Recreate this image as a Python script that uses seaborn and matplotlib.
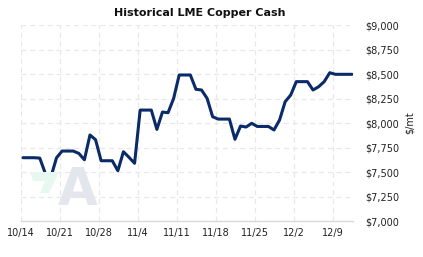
import matplotlib
matplotlib.use("Agg")
import matplotlib.pyplot as plt
from matplotlib.patches import Polygon
import seaborn as sns
import pandas as pd

# ---- data (daily, weekends carry Friday's value) ----
start_date = "2022-10-14"
prices = [7646, 7646, 7646, 7642, 7485, 7450, 7645,
          7714, 7714, 7714, 7690, 7625, 7878, 7830,
          7615, 7615, 7615, 7513, 7707, 7650, 7589,
          8132, 8132, 8132, 7935, 8112, 8105, 8250,
          8490, 8490, 8490, 8344, 8337, 8252, 8064,
          8040, 8040, 8040, 7834, 7969, 7959, 7997,
          7965, 7965, 7965, 7929, 8031, 8217, 8286,
          8422, 8422, 8422, 8337, 8370, 8422, 8513,
          8497, 8497, 8497, 8497]
tick_dates = ["2022-10-14", "2022-10-21", "2022-10-28", "2022-11-04",
              "2022-11-11", "2022-11-18", "2022-11-25", "2022-12-02",
              "2022-12-09"]
tick_labels = ["10/14", "10/21", "10/28", "11/4", "11/11", "11/18",
               "11/25", "12/2", "12/9"]
y_ticks = [7000, 7250, 7500, 7750, 8000, 8250, 8500, 8750, 9000]
y_labels = ["$7,000", "$7,250", "$7,500", "$7,750", "$8,000",
            "$8,250", "$8,500", "$8,750", "$9,000"]

dates = pd.date_range(start_date, periods=len(prices), freq="D") + pd.Timedelta(hours=10)
df = pd.DataFrame({"date": dates, "price": prices})

sns.set_theme(style="white")
plt.rcParams['font.family'] = ['DejaVu Sans']

fig = plt.figure(figsize=(4.23, 2.57), dpi=100)
ax = fig.add_axes([0.049, 0.140, 0.7855, 0.7627])

# watermark
fig.text(78 / 423, 1 - 191 / 257, "A", fontsize=37, fontweight="bold",
         color="#e3e7ed", ha="center", va="center", zorder=0)
wm = Polygon([[30 / 423, 1 - 172 / 257], [59 / 423, 1 - 172 / 257],
              [49 / 423, 1 - 193 / 257], [40 / 423, 1 - 193 / 257],
              [45 / 423, 1 - 181 / 257], [33 / 423, 1 - 181 / 257]],
             closed=True, transform=fig.transFigure, facecolor="#e6f8f0",
             edgecolor="none", zorder=0)
fig.patches.append(wm)
ax.patch.set_alpha(0)

sns.lineplot(data=df, x="date", y="price", ax=ax, color="#0b2a68",
             linewidth=2.2, zorder=3)

ax.set_ylim(7000, 9000)
ax.set_xlim(pd.Timestamp(start_date), dates[-1] + pd.Timedelta(hours=4))
ax.set_yticks(y_ticks)
ax.set_yticklabels(y_labels)
ax.set_xticks([pd.Timestamp(d) for d in tick_dates])
ax.set_xticklabels(tick_labels)
ax.yaxis.tick_right()
ax.yaxis.set_label_position("right")
ax.tick_params(axis="both", length=0, labelsize=7, colors="#222222")
ax.tick_params(axis="y", pad=9)
ax.tick_params(axis="x", pad=5)

ax.grid(True, color="#e8e8e8", linestyle=(0, (4, 3)), linewidth=0.9)
for s in ["top", "right", "left"]:
    ax.spines[s].set_visible(False)
ax.spines["bottom"].set_color("#d9d9d9")
ax.spines["bottom"].set_linewidth(1)

ax.set_xlabel("")
ax.set_ylabel("$/mt", fontsize=7, color="#222222", labelpad=4, rotation=90)

fig.text(200 / 423, 1 - 13 / 257, "Historical LME Copper Cash",
         fontsize=8, fontweight="bold", ha="center", va="center",
         color="#111111")

fig.savefig("out.png", dpi=100)
